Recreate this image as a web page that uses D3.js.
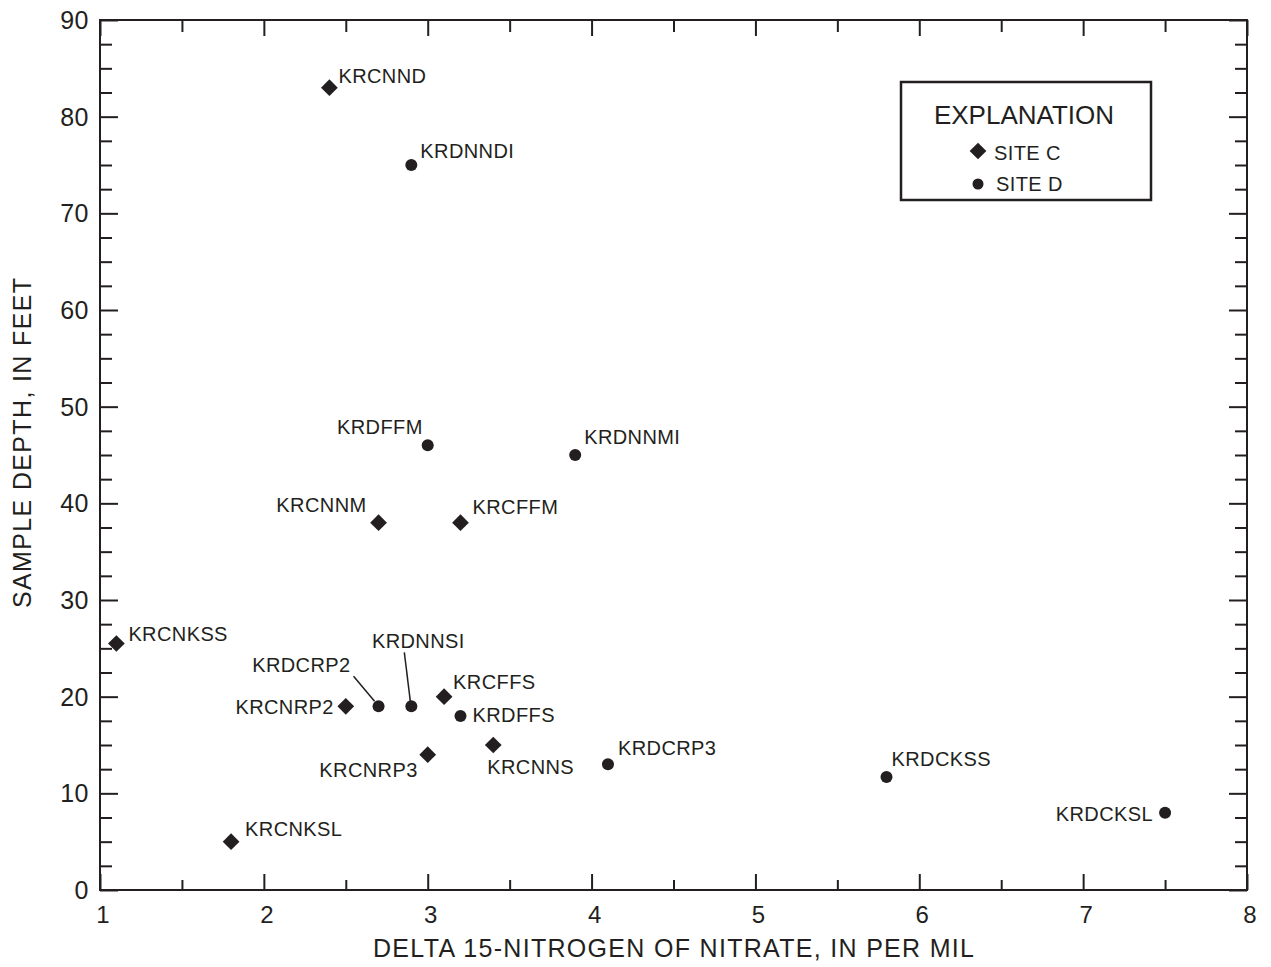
<!DOCTYPE html>
<html>
<head>
<meta charset="utf-8">
<script src="https://cdn.jsdelivr.net/npm/d3@7"></script>
<style>
  html, body { margin: 0; padding: 0; background: #fff; }
  svg { display: block; }
  text { font-family: "Liberation Sans", Arial, Helvetica, sans-serif; fill: #231f20; }
</style>
</head>
<body>
<svg id="chart" width="1271" height="967"></svg>
<script>
// ---- Data ----
const siteCNames = ["KRCNND", "KRCNNM", "KRCFFM", "KRCNKSS", "KRCNRP2", "KRCFFS", "KRCNNS", "KRCNRP3", "KRCNKSL"];
const siteCDelta = [2.4, 2.7, 3.2, 1.1, 2.5, 3.1, 3.4, 3.0, 1.8];
const siteCDepth = [83, 38, 38, 25.5, 19, 20, 15, 14, 5];

const siteDNames = ["KRDNNDI", "KRDFFM", "KRDNNMI", "KRDCRP2", "KRDNNSI", "KRDFFS", "KRDCRP3", "KRDCKSS", "KRDCKSL"];
const siteDDelta = [2.9, 3.0, 3.9, 2.7, 2.9, 3.2, 4.1, 5.8, 7.5];
const siteDDepth = [75, 46, 45, 19, 19, 18, 13, 11.7, 8];

const xTickValues = [1, 2, 3, 4, 5, 6, 7, 8];
const yTickValues = [0, 10, 20, 30, 40, 50, 60, 70, 80, 90];
const xTitle = "DELTA 15-NITROGEN OF NITRATE, IN PER MIL";
const yTitle = "SAMPLE DEPTH, IN FEET";
const legendTitle = "EXPLANATION";
const legendLabels = ["SITE C", "SITE D"];

// ---- Layout ----
const svg = d3.select("#chart");
const L = 100, R = 1247, T = 20, B = 890;
const x = d3.scaleLinear().domain([1, 8]).range([L, R]);
const y = d3.scaleLinear().domain([0, 90]).range([B, T]);
const ink = "#231f20";

// label placement (anchor, dx, dy relative to marker)
const labelPlace = {
  KRCNND: ["start", 9, -5], KRCNNM: ["end", -12, -11], KRCFFM: ["start", 12, -9],
  KRCNKSS: ["start", 12, -3], KRCNRP2: ["end", -12, 8], KRCFFS: ["start", 9, -8],
  KRCNNS: ["start", -6, 29], KRCNRP3: ["end", -10, 22], KRCNKSL: ["start", 14, -6],
  KRDNNDI: ["start", 9, -7], KRDFFM: ["end", -5, -11], KRDNNMI: ["start", 9, -11],
  KRDCRP2: ["end", -28, -34], KRDNNSI: ["middle", 7, -58], KRDFFS: ["start", 12, 6],
  KRDCRP3: ["start", 10, -9], KRDCKSS: ["start", 5, -11], KRDCKSL: ["end", -12, 8]
};
const leaders = {
  KRDCRP2: [-25, -30, -4, -5],
  KRDNNSI: [-7, -54, -1, -5]
};

// ---- Axes ----
const g = svg.append("g");
const minorX = d3.range(1.5, 8, 1);
const minorY = d3.range(0, 90.01, 2.5).filter(v => v % 10 !== 0);

function drawAxis(axis, values, size) {
  const a = g.append("g").call(axis.tickValues(values).tickSize(size).tickFormat(""));
  a.select(".domain").remove();
  a.selectAll(".tick line").attr("stroke", ink).attr("stroke-width", 2);
  return a;
}
// bottom
drawAxis(d3.axisTop(x), xTickValues, 16).attr("transform", `translate(0,${B})`);
drawAxis(d3.axisTop(x), minorX, 10).attr("transform", `translate(0,${B})`);
// top
drawAxis(d3.axisBottom(x), xTickValues, 16).attr("transform", `translate(0,${T})`);
drawAxis(d3.axisBottom(x), minorX, 12).attr("transform", `translate(0,${T})`);
// left
drawAxis(d3.axisRight(y), yTickValues, 18).attr("transform", `translate(${L},0)`);
drawAxis(d3.axisRight(y), minorY, 12).attr("transform", `translate(${L},0)`);
// right
drawAxis(d3.axisLeft(y), yTickValues, 18).attr("transform", `translate(${R},0)`);
drawAxis(d3.axisLeft(y), minorY, 12).attr("transform", `translate(${R},0)`);

// frame
g.append("rect").attr("x", L).attr("y", T).attr("width", R - L).attr("height", B - T)
  .attr("fill", "none").attr("stroke", ink).attr("stroke-width", 2);

// tick labels
g.selectAll(".xl").data(xTickValues).join("text")
  .attr("x", d => x(d) + 3).attr("y", B + 33)
  .attr("text-anchor", "middle").attr("font-size", 24).text(d => d);
g.selectAll(".yl").data(yTickValues).join("text")
  .attr("x", L - 11).attr("y", d => y(d) + 9)
  .attr("text-anchor", "end").attr("font-size", 25).attr("letter-spacing", 0.5).text(d => d);

// axis titles
g.append("text").attr("x", (L + R) / 2).attr("y", 957)
  .attr("text-anchor", "middle").attr("font-size", 25)
  .attr("textLength", 601).attr("lengthAdjust", "spacing").text(xTitle);
g.append("text").attr("transform", `translate(31,443) rotate(-90)`)
  .attr("text-anchor", "middle").attr("font-size", 25)
  .attr("textLength", 330).attr("lengthAdjust", "spacing").text(yTitle);

// ---- Markers ----
const diamond = d3.symbol().type(d3.symbolSquare).size(140);
const siteC = siteCNames.map((n, i) => ({ name: n, dx: siteCDelta[i], dp: siteCDepth[i] }));
const siteD = siteDNames.map((n, i) => ({ name: n, dx: siteDDelta[i], dp: siteDDepth[i] }));

g.selectAll(".c").data(siteC).join("path")
  .attr("d", diamond)
  .attr("transform", d => `translate(${x(d.dx)},${y(d.dp)}) rotate(45)`)
  .attr("fill", ink);
g.selectAll(".d").data(siteD).join("circle")
  .attr("cx", d => x(d.dx)).attr("cy", d => y(d.dp)).attr("r", 6)
  .attr("fill", ink);

const all = siteC.concat(siteD);
g.selectAll(".lab").data(all).join("text")
  .attr("x", d => x(d.dx) + labelPlace[d.name][1])
  .attr("y", d => y(d.dp) + labelPlace[d.name][2])
  .attr("text-anchor", d => labelPlace[d.name][0])
  .attr("font-size", 20).attr("letter-spacing", 0.4)
  .text(d => d.name);

g.selectAll(".lead").data(all.filter(d => leaders[d.name])).join("line")
  .attr("x1", d => x(d.dx) + leaders[d.name][0]).attr("y1", d => y(d.dp) + leaders[d.name][1])
  .attr("x2", d => x(d.dx) + leaders[d.name][2]).attr("y2", d => y(d.dp) + leaders[d.name][3])
  .attr("stroke", ink).attr("stroke-width", 1.5);

// ---- Legend ----
const lg = svg.append("g");
lg.append("rect").attr("x", 901).attr("y", 82).attr("width", 250).attr("height", 118)
  .attr("fill", "#fff").attr("stroke", ink).attr("stroke-width", 2.5);
lg.append("text").attr("x", 1024).attr("y", 124).attr("text-anchor", "middle")
  .attr("font-size", 26).text(legendTitle);
lg.append("path").attr("d", diamond).attr("transform", "translate(978,151) rotate(45)").attr("fill", ink);
lg.append("text").attr("x", 994).attr("y", 160).attr("font-size", 20).attr("letter-spacing", 0.4).text(legendLabels[0]);
lg.append("circle").attr("cx", 978).attr("cy", 184).attr("r", 5.5).attr("fill", ink);
lg.append("text").attr("x", 996).attr("y", 191).attr("font-size", 20).attr("letter-spacing", 0.4).text(legendLabels[1]);
</script>
</body>
</html>
